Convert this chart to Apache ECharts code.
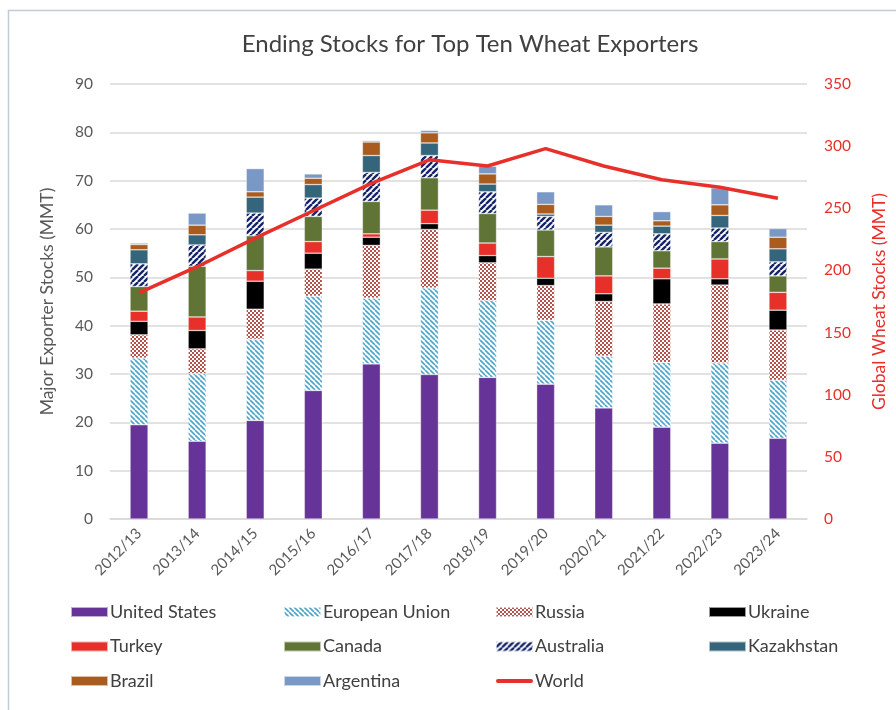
<!DOCTYPE html>
<html>
<head>
<meta charset="utf-8">
<script src="https://cdn.jsdelivr.net/npm/echarts@6/dist/echarts.min.js"></script>
<style>html,body{margin:0;padding:0;background:#fff}#c{width:896px;height:710px}</style>
</head>
<body>
<div id="c"></div>
<script>
var years = ['2012/13','2013/14','2014/15','2015/16','2016/17','2017/18','2018/19','2019/20','2020/21','2021/22','2022/23','2023/24'];
var unitedStates = [19.5,16.1,20.4,26.6,32.1,29.9,29.3,27.9,23.0,19.0,15.7,16.7];
var europeanUnion = [13.8,14.0,16.8,19.5,13.6,17.9,15.9,13.2,10.7,13.4,16.6,12.0];
var russia = [4.8,5.1,6.2,5.6,10.9,12.1,7.8,7.2,11.3,12.1,16.1,10.4];
var ukraine = [2.8,3.8,5.8,3.3,1.7,1.2,1.5,1.5,1.6,5.2,1.3,4.1];
var turkey = [2.1,2.8,2.2,2.4,0.7,2.8,2.6,4.5,3.7,2.2,4.1,3.7];
var canada = [5.1,10.5,7.2,5.2,6.7,6.7,6.1,5.5,6.0,3.6,3.6,3.4];
var australia = [4.7,4.4,4.7,3.8,6.0,4.6,4.5,2.8,3.0,3.5,2.8,2.9];
var kazakhstan = [2.9,2.1,3.3,2.8,3.5,2.6,1.6,0.5,1.5,1.6,2.6,2.7];
var brazil = [1.1,2.0,1.1,1.3,2.8,2.1,2.1,2.0,1.8,1.1,2.2,2.4];
var argentina = [0.3,2.5,4.8,0.9,0.3,0.5,1.6,2.6,2.4,1.9,3.5,1.8];
var world = [182,203,226,248,270,289,284,298,284,273,267,258];
var leftTicks = {min:0, max:90, interval:10};
var rightTicks = {min:0, max:350, interval:50};

function stripe(color, size, lw, dir) {
  var c = document.createElement('canvas');
  c.width = size; c.height = size;
  var g = c.getContext('2d');
  g.fillStyle = '#fff'; g.fillRect(0,0,size,size);
  g.strokeStyle = color; g.lineWidth = lw;
  for (var k = -1; k <= 1; k++) {
    g.beginPath();
    if (dir === 'back') { g.moveTo(k*size, 0); g.lineTo(k*size+size, size); }
    else { g.moveTo(k*size, size); g.lineTo(k*size+size, 0); }
    g.stroke();
  }
  return {image: c, repeat: 'repeat'};
}
function checker(color, cell) {
  var c = document.createElement('canvas');
  c.width = cell*2; c.height = cell*2;
  var g = c.getContext('2d');
  g.fillStyle = '#fff'; g.fillRect(0,0,cell*2,cell*2);
  g.fillStyle = color;
  g.fillRect(0,0,cell,cell); g.fillRect(cell,cell,cell,cell);
  return {image: c, repeat: 'repeat'};
}

var font = 'Lato, "Open Sans", sans-serif';
var barDefs = [
  ['United States', unitedStates, '#663399'],
  ['European Union', europeanUnion, stripe('#4da4c9', 5, 1.6, 'back')],
  ['Russia', russia, checker('#b5504a', 2)],
  ['Ukraine', ukraine, '#000000'],
  ['Turkey', turkey, '#e8302a'],
  ['Canada', canada, '#607436'],
  ['Australia', australia, stripe('#142468', 6, 2.4, 'fwd')],
  ['Kazakhstan', kazakhstan, '#35657a'],
  ['Brazil', brazil, '#a95c1e'],
  ['Argentina', argentina, '#7a98c5']
];
var series = barDefs.map(function(d){
  return {name:d[0], type:'bar', stack:'s', data:d[1], barWidth:18,
    itemStyle:{color:d[2], borderColor:'rgba(255,255,255,0.6)', borderWidth:0.6}, emphasis:{disabled:true}};
});
series.push({name:'World', type:'line', yAxisIndex:1, data:world, symbol:'none', showSymbol:false,
  lineStyle:{color:'#e8302a', width:3.5}, itemStyle:{color:'#e8302a'}, z:5});

var lineIcon = 'path://M2,0 L35,0 A2,2 0 0 1 35,4 L2,4 A2,2 0 0 1 2,0 Z';
var cols = [['United States','Turkey','Brazil'],['European Union','Canada','Argentina'],['Russia','Australia','World'],['Ukraine','Kazakhstan']];
var lefts = [70, 283, 495, 708];
var legends = cols.map(function(list, i){
  return {orient:'vertical', left:lefts[i], top:602, padding:0, itemWidth:37, itemHeight:10, itemGap:14.5,
    icon:'rect', symbolKeepAspect:true,
    data:list.map(function(n){ return n==='World' ? {name:n, icon:lineIcon} : n; }),
    selectedMode:false, textStyle:{fontFamily:font, fontSize:18, color:'#404040', lineHeight:20, padding:[0,0,0,-3]}};
});

var chart = echarts.init(document.getElementById('c'));
chart.setOption({
  animation:false,
  backgroundColor:'#fff',
  title:{text:'Ending Stocks for Top Ten Wheat Exporters', left:465, textAlign:'center', top:27,
    textStyle:{fontFamily:font, fontSize:24, fontWeight:'normal', color:'#404040'}},
  legend:legends,
  grid:{left:110, right:83, top:84, bottom:191},
  xAxis:{type:'category', data:years, axisTick:{show:false},
    axisLine:{lineStyle:{color:'#d9d9d9', width:1.5}},
    axisLabel:{rotate:45, margin:12, fontFamily:font, fontSize:15, color:'#595959'}},
  yAxis:[
    {type:'value', min:leftTicks.min, max:leftTicks.max, interval:leftTicks.interval,
     name:'Major Exporter Stocks (MMT)', nameLocation:'middle', nameRotate:90, nameGap:54,
     nameTextStyle:{fontFamily:font, fontSize:17.5, color:'#595959'},
     axisLine:{show:false}, axisTick:{show:false},
     axisLabel:{margin:17, fontFamily:font, fontSize:15.5, color:'#595959'},
     splitLine:{lineStyle:{color:'#d9d9d9', width:1.5}}},
    {type:'value', min:rightTicks.min, max:rightTicks.max, interval:rightTicks.interval,
     name:'Global Wheat Stocks (MMT)', nameLocation:'middle', nameRotate:90, nameGap:63,
     nameTextStyle:{fontFamily:font, fontSize:17.5, color:'#e8302a'},
     axisLine:{show:false}, axisTick:{show:false}, splitLine:{show:false},
     axisLabel:{margin:17, fontFamily:font, fontSize:15.5, color:'#e8302a'}}
  ],
  graphic:[{type:'polyline', shape:{points:[[8.5,710],[8.5,10.5],[896,10.5]]},
    style:{stroke:'#c3cbd9', lineWidth:1.5, fill:null}, silent:true}],
  series:series
});
</script>
</body>
</html>
